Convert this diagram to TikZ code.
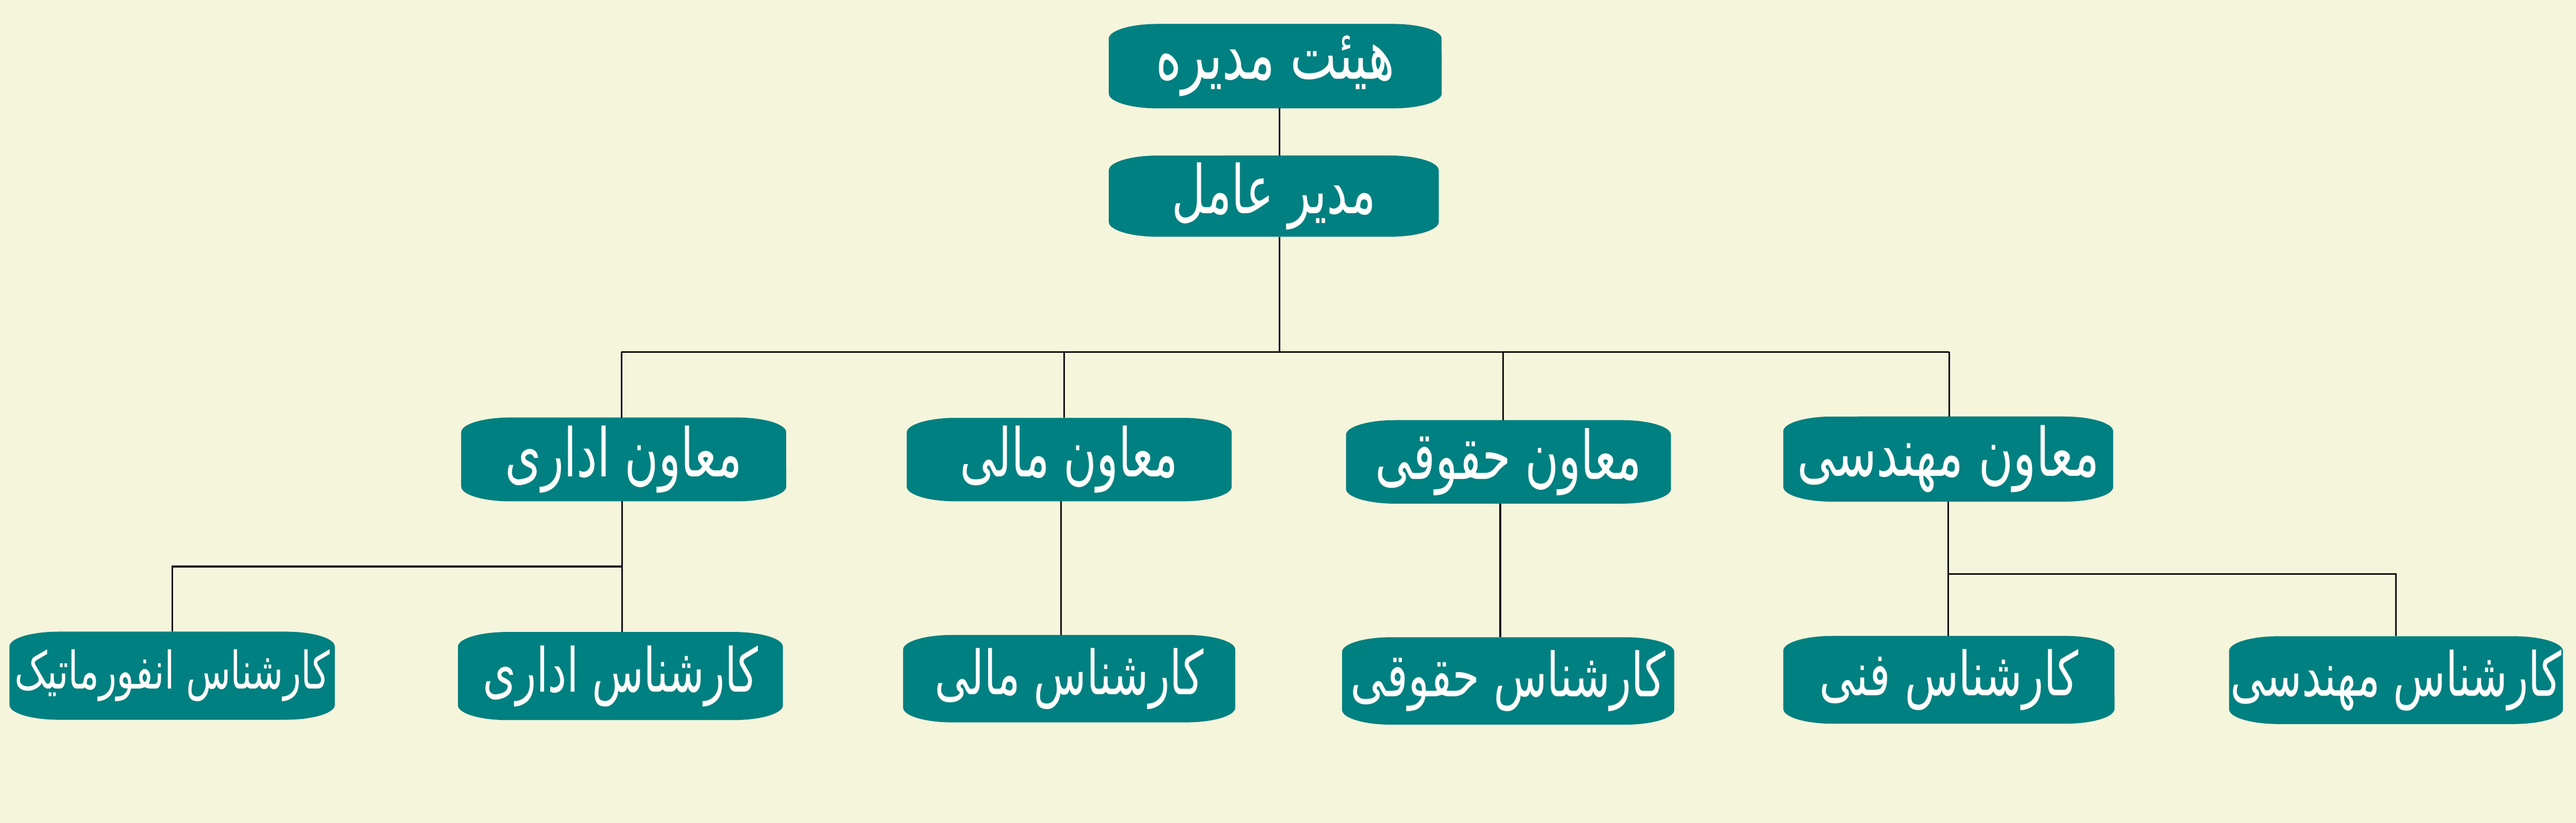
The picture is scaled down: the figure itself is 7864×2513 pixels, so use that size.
\documentclass[tikz,border=0pt]{standalone}
\usepackage{graphicx}
\usepackage{fontspec}
\newfontfamily\fa[Script=Arabic]{DejaVu Sans}
\TeXXeTstate=1
\definecolor{bgcol}{HTML}{F5F5DC}
\definecolor{boxteal}{HTML}{008080}
\tikzset{
  boxfill/.style={fill=boxteal},
  boxtext/.style={text=white, inner sep=0pt, outer sep=0pt, font=\fa},
  conn/.style={draw=black, line width=0.05cm},
}
% #1 name, #2 left, #3 right, #4 top, #5 bottom (pixels, y down), #6 text, #7 font size, #8 text width
\newcommand\orgbox[8]{%
  \fill[boxfill] (#2,{-(#4)-45}) -- (#2,{-(#5)+45})
    arc[start angle=180,end angle=270,x radius=1.5cm,y radius=0.45cm]
    -- ({#3-150},-#5)
    arc[start angle=270,end angle=360,x radius=1.5cm,y radius=0.45cm]
    -- (#3,{-(#4)-45})
    arc[start angle=0,end angle=90,x radius=1.5cm,y radius=0.45cm]
    -- ({#2+150},-#4)
    arc[start angle=90,end angle=180,x radius=1.5cm,y radius=0.45cm]
    -- cycle;
  \node[boxtext, minimum width={(#3-#2)*0.01cm}, minimum height={(#5-#4)*0.01cm},
        font=\fa\fontsize{#7}{#7}\selectfont] (#1) at ({(#2+#3)/2},{-(#4+#5)/2})
        {\resizebox{#8}{\totalheight}{#6}};%
}
\begin{document}
\begin{tikzpicture}[x=0.01cm,y=0.01cm]
  \useasboundingbox (0,0) rectangle (7864,-2513);
  \fill[bgcol] (0,0) rectangle (7864,-2513);

  \orgbox{B1}{3385}{4401}{73}{331}{\beginR هیئت مدیره\endR}{44pt}{7.30cm}
  \orgbox{B2}{3385}{4392}{475}{723}{\beginR مدیر عامل\endR}{44pt}{6.23cm}

  \orgbox{M1}{1408}{2400}{1275}{1531}{\beginR معاون اداری\endR}{44pt}{7.22cm}
  \orgbox{M2}{2768}{3760}{1276}{1531}{\beginR معاون مالی\endR}{44pt}{6.65cm}
  \orgbox{M3}{4109}{5101}{1283}{1538}{\beginR معاون حقوقی\endR}{44pt}{8.13cm}
  \orgbox{M4}{5444}{6451}{1272}{1532}{\beginR معاون مهندسی\endR}{44pt}{9.21cm}

  \orgbox{K1}{29}{1022}{1929}{2198}{\beginR کارشناس انفورماتیک\endR}{34pt}{9.61cm}
  \orgbox{K2}{1398}{2390}{1930}{2199}{\beginR کارشناس اداری\endR}{40pt}{8.39cm}
  \orgbox{K3}{2757}{3771}{1939}{2206}{\beginR کارشناس مالی\endR}{40pt}{8.19cm}
  \orgbox{K4}{4097}{5111}{1946}{2213}{\beginR کارشناس حقوقی\endR}{40pt}{9.60cm}
  \orgbox{K5}{5444}{6455}{1942}{2210}{\beginR کارشناس فنی\endR}{40pt}{7.90cm}
  \orgbox{K6}{6805}{7824}{1943}{2211}{\beginR کارشناس مهندسی\endR}{40pt}{10.10cm}

  % x positions of the connector lines
  \coordinate (xB) at (3906,0);
  \coordinate (xA1) at (1897,0);
  \coordinate (xA2) at (3249,0);
  \coordinate (xA3) at (4589,0);
  \coordinate (xA4) at (5950,0);
  \coordinate (xC1) at (1899,0);
  \coordinate (xC2) at (3239,0);
  \coordinate (xC3) at (4580,0);
  \coordinate (xC4) at (5948,0);
  \coordinate (busC) at (0,-1075);
  \coordinate (jA) at (0,-1730);
  \coordinate (jD) at (0,-1753);

  % top levels
  \draw[conn] (xB |- B1.south) -- (xB |- B2.north);
  \draw[conn] (xB |- B2.south) -- (xB |- busC);
  \draw[conn] (xA1 |- busC) -- (xA4 |- busC);
  \draw[conn] (xA1 |- busC) -- (xA1 |- M1.north);
  \draw[conn] (xA2 |- busC) -- (xA2 |- M2.north);
  \draw[conn] (xA3 |- busC) -- (xA3 |- M3.north);
  \draw[conn] (xA4 |- busC) -- (xA4 |- M4.north);

  % level three
  \draw[conn] (xC1 |- M1.south) -- (xC1 |- K2.north);
  \draw[conn] (xC1 |- jA) -| (K1.north);
  \draw[conn] (xC2 |- M2.south) -- (xC2 |- K3.north);
  \draw[conn] (xC3 |- M3.south) -- (xC3 |- K4.north);
  \draw[conn] (xC4 |- M4.south) -- (xC4 |- K5.north);
  \draw[conn] (xC4 |- jD) -| (K6.north);
\end{tikzpicture}
\end{document}
